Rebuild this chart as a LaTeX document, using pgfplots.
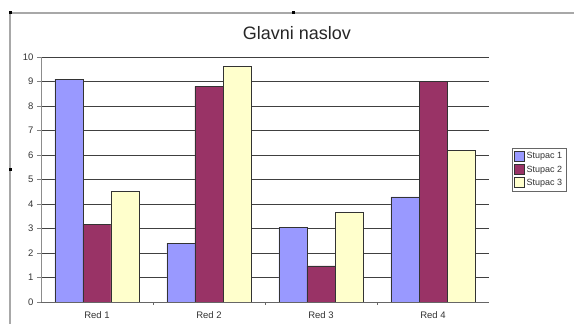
\documentclass[border=0pt]{standalone}
\usepackage{pgfplots}
\pgfplotsset{compat=1.18}
\usepackage{fontspec}
\setmainfont{Liberation Sans}
\definecolor{s1}{HTML}{9999FF}
\definecolor{s2}{HTML}{993366}
\definecolor{s3}{HTML}{FFFFCC}
\definecolor{frame}{HTML}{A8A8A8}
\begin{document}
\begin{tikzpicture}
\useasboundingbox (0pt,0pt) rectangle (574pt,324pt);
\draw[frame,line width=1.6pt] (10pt,0pt) -- (10pt,311pt) -- (574pt,311pt);
\fill[black] (8.5pt,309.5pt) rectangle (11.5pt,312.5pt);
\fill[black] (291.5pt,309.5pt) rectangle (294.5pt,312.5pt);
\fill[black] (8.5pt,152.5pt) rectangle (11.5pt,155.5pt);
\node[font=\fontsize{18}{20}\selectfont, text=black!85] at (297pt,291pt) {Glavni naslov};
\begin{axis}[
  at={(41pt,22pt)}, anchor=south west,
  scale only axis, width=448pt, height=245pt,
  xmin=-0.5, xmax=3.5, ymin=0, ymax=10,
  ybar=0pt, bar width=28pt,
  axis lines=left, axis line style={-},
  x axis line style={draw=black!60},
  y axis line style={draw=black!45},
  xtick={0,1,2,3},
  xticklabels={Red 1,Red 2,Red 3,Red 4},
  minor xtick={0.5,1.5,2.5},
  major x tick style={draw=none},
  minor x tick style={draw=black!60},
  ytick={0,1,...,10},
  tick align=outside,
  major tick length=4pt, minor tick length=3pt,
  ymajorgrids,
  grid style={draw=black!75, line width=0.7pt},
  ticklabel style={font=\fontsize{9.5}{10}\selectfont, text=black!80},
  /pgf/number format/assume math mode=true,
  xticklabel style={yshift=-2pt},
  legend style={at={(1.0513,0.6286)}, anchor=north west,
    font=\fontsize{9}{10}\selectfont, draw=black!60, text=black!80,
    inner xsep=2pt, inner ysep=2.5pt, row sep=1.5pt, cells={anchor=west},
    /tikz/every even column/.append style={column sep=1pt}},
  legend image code/.code={\draw[#1,draw=black!80] (-1pt,-4.5pt) rectangle (9pt,5.5pt);},
]
\addplot[fill=s1, draw=black!80] coordinates {(0,9.1) (1,2.4) (2,3.06) (3,4.29)};
\addplot[fill=s2, draw=black!80] coordinates {(0,3.18) (1,8.8) (2,1.47) (3,9.02)};
\addplot[fill=s3, draw=black!80] coordinates {(0,4.53) (1,9.63) (2,3.67) (3,6.2)};
\legend{Stupac 1,Stupac 2,Stupac 3}
\end{axis}
\end{tikzpicture}
\end{document}
